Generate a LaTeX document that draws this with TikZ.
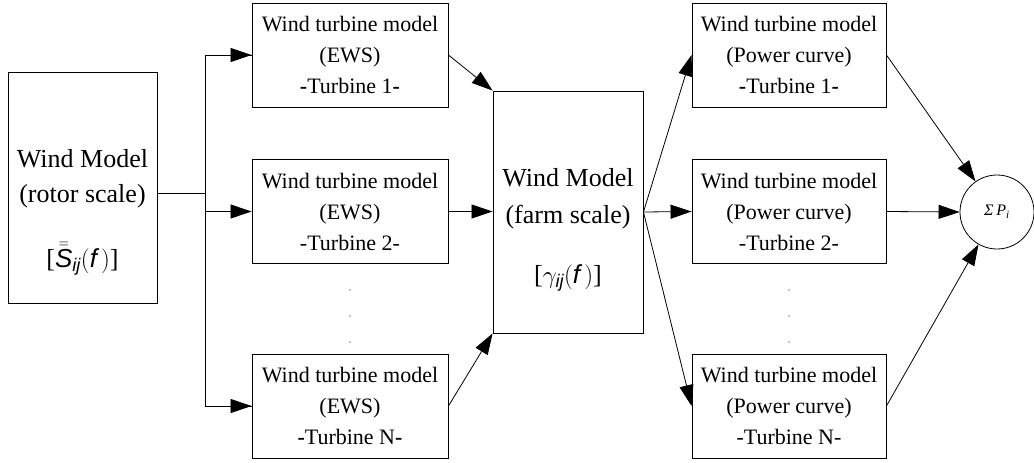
\documentclass[tikz,border=0pt]{standalone}
\usepackage{amsmath}
\usepackage{fontspec}
\setmainfont{Liberation Serif}
\setsansfont{Liberation Sans}
\usetikzlibrary{arrows.meta,calc}
\begin{document}
\begin{tikzpicture}[x=1pt,y=-1pt,
  box/.style={draw, line width=0.9pt, inner sep=0pt, align=center,
    font=\fontsize{22}{31}\selectfont},
  tbox/.style={box, minimum width=196pt, minimum height=104pt},
  bigtxt/.style={inner sep=0pt, anchor=base, font=\fontsize{26}{30}\selectfont},
  arr/.style={line width=0.8pt, -{Triangle[length=21pt,width=14pt]}},
  ln/.style={line width=0.8pt},
  dotm/.style={circle, fill=black, inner sep=0pt, minimum size=1.3pt}]
\useasboundingbox (0,0) rectangle (1034,463);
% left wind model
\node[box, minimum width=149pt, minimum height=231pt] (wm) at (82.5,187.5) {};
\node[bigtxt] (wm1) at (82.5,167) {Wind Model};
\node[bigtxt] (wm2) at (82.5,202) {(rotor scale)};
\node[bigtxt] (wm3) at (82.5,267) {[$\bar{\bar{\text{\sffamily\itshape S}}}_{\text{\sffamily\itshape ij}}(\text{\sffamily\itshape f}\,)$]};
% EWS boxes
\node[tbox] (e1) at (350,55) {Wind turbine model\\(EWS)\\\textbf{-}Turbine 1\textbf{-}};
\node[tbox] (e2) at (350,211.5) {Wind turbine model\\(EWS)\\-Turbine 2-};
\node[tbox] (eN) at (350,406) {Wind turbine model\\(EWS)\\\textbf{-}Turbine N\textbf{-}};
% farm model
\node[box, minimum width=150pt, minimum height=242pt] (fm) at (568,212) {};
\node[bigtxt] (fm1) at (568,186) {Wind Model};
\node[bigtxt] (fm2) at (568,223) {(farm scale)};
\node[bigtxt] (fm3) at (568,283) {[$\gamma_{\text{\sffamily\itshape ij}}(\text{\sffamily\itshape f}\,)$]};
% power curve boxes
\node[tbox, minimum width=194pt] (p1) at (789,55) {Wind turbine model\\(Power curve)\\\textbf{-}Turbine 1\textbf{-}};
\node[tbox, minimum width=194pt] (p2) at (789,211.5) {Wind turbine model\\(Power curve)\\-Turbine 2-};
\node[tbox, minimum width=194pt] (pN) at (789,406) {Wind turbine model\\(Power curve)\\-Turbine N-};
% sum
\node[draw, circle, line width=0.8pt, minimum size=74pt, inner sep=0pt,
  font=\fontsize{16}{18}\selectfont] (sum) at (997,212) {\textit{Σ\,P}\textsubscript{\textit{i}}};
% dots
\foreach \yy [count=\k] in {290,316,342}{
  \node[dotm] (de\k) at (350,\yy) {};
  \node[dotm] (dp\k) at (789,\yy) {};
}
% connectors
\coordinate (j) at (205,193);
\draw[ln] (j -| wm.east) -- (j);
\draw[ln] (j) |- (e1.west) ;
\draw[ln] (j) |- (eN.west);
\draw[arr] (j |- e1.west) -- (e1.west);
\draw[arr] (j |- e2.west) -- (e2.west);
\draw[arr] (j |- eN.west) -- (eN.west);
\draw[arr] (e1.east) -- (fm.north west);
\draw[arr] (e2.east) -- (e2.east -| fm.west);
\draw[arr] (eN.east) -- (fm.south west);
\draw[arr] (fm.east) -- (p1.west);
\draw[arr] (fm.east) -- (p2.west);
\draw[arr] (fm.east) -- (pN.west);
\draw[arr] (p1.east) -- (sum);
\draw[arr] (p2.east) -- (sum.west);
\draw[arr] (pN.east) -- (sum);
\end{tikzpicture}
\end{document}
